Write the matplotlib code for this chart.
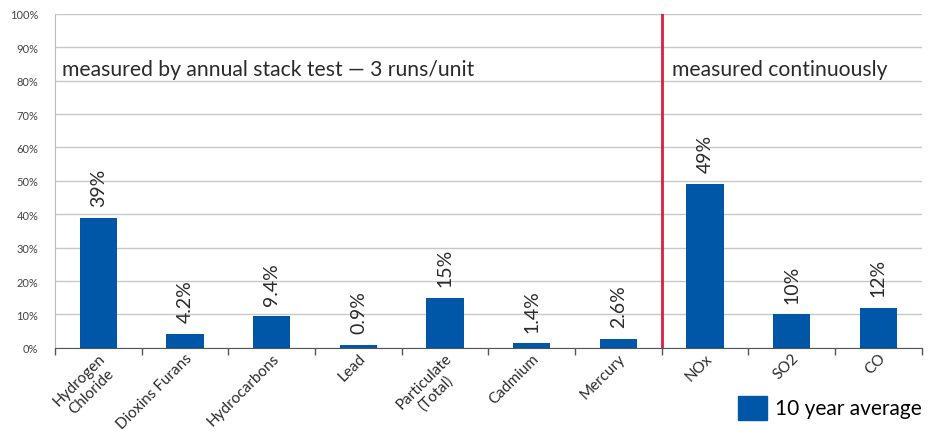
import matplotlib
matplotlib.use('Agg')
import matplotlib.pyplot as plt
from matplotlib.patches import Patch
import numpy as np

categories = ['Hydrogen\nChloride', 'Dioxins Furans', 'Hydrocarbons', 'Lead', 'Particulate\n(Total)',
              'Cadmium', 'Mercury', 'NOx', 'SO2', 'CO']
values = [39, 4.2, 9.4, 0.9, 15, 1.4, 2.6, 49, 10, 12]
value_labels = ['39%', '4.2%', '9.4%', '0.9%', '15%', '1.4%', '2.6%', '49%', '10%', '12%']
yticks = list(range(0, 101, 10))

plt.rcParams['font.family'] = ['Lato', 'DejaVu Sans']
blue = '#0057a8'
txt = '#2b2b2b'

fig = plt.figure(figsize=(9.36, 4.35), dpi=100)
ax = fig.add_axes([0.0588, 0.198, 0.926, 0.768])
x = np.arange(len(categories))
ax.bar(x, values, width=0.43, color=blue, zorder=3)
for xi, v, lab in zip(x, values, value_labels):
    ax.text(xi, v + 3.5, lab, rotation=90, ha='center', va='bottom', fontsize=14, color=txt)

ax.set_xlim(-0.5, len(categories) - 0.5)
ax.set_ylim(0, 100)
ax.set_yticks(yticks)
ax.set_yticklabels([f'{t}%' for t in yticks], fontsize=8, color='#444444')
ax.tick_params(axis='y', length=0, pad=12)
ax.yaxis.grid(True, color='#c8c8c8', linewidth=1, zorder=0)

ax.set_xticks(x)
ax.set_xticklabels(categories, rotation=45, ha='right', rotation_mode='anchor',
                   fontsize=11, color=txt, multialignment='center')
ax.tick_params(axis='x', length=0, pad=2)
ax.set_xticks(np.arange(-0.5, len(categories), 1), minor=True)
ax.tick_params(axis='x', which='minor', length=5, color='#555555', width=1)

for s in ['top', 'right']:
    ax.spines[s].set_visible(False)
ax.spines['left'].set_color('#bbbbbb')
ax.spines['bottom'].set_color('#555555')

ax.axvline(6.5, color='#d6213a', linewidth=2, zorder=4)
ax.text(-0.42, 80.5, 'measured by annual stack test \u2014 3 runs/unit', fontsize=15.2, color=txt, va='bottom')
ax.text(6.62, 80.5, 'measured continuously', fontsize=15.2, color=txt, va='bottom')

fig.legend(handles=[Patch(color=blue)], labels=['10 year average'], loc='lower right',
           bbox_to_anchor=(1.005, -0.01), frameon=False, fontsize=15, handlelength=1.4,
           handleheight=1.4, handletextpad=0.4)

fig.savefig('out.png', dpi=100)
